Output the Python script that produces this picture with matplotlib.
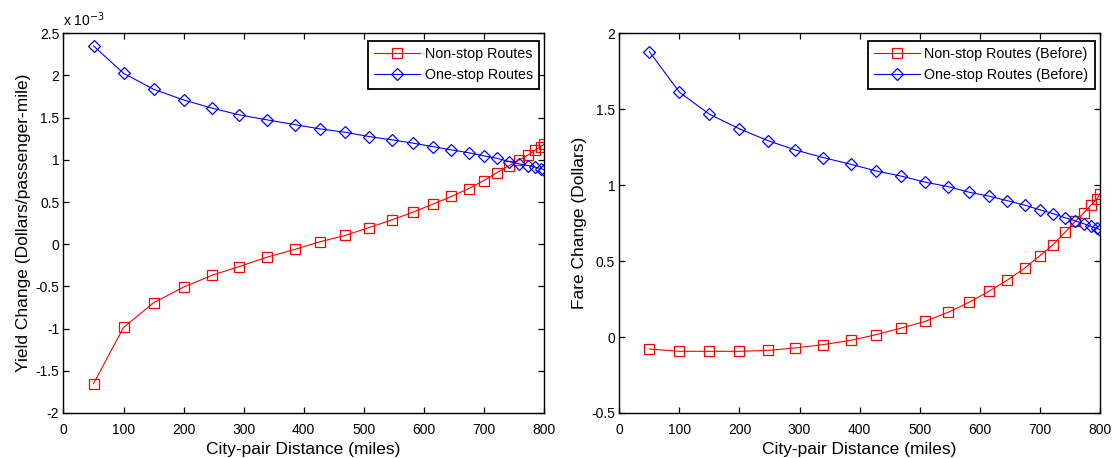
import matplotlib.pyplot as plt
import matplotlib.ticker as mticker

plt.rcParams['font.family'] = ['Liberation Sans', 'DejaVu Sans']
plt.rcParams['axes.unicode_minus'] = False

# city-pair distances (miles)
distance = [50, 100, 150, 200, 248, 293, 339, 385, 427, 469, 509, 547,
            582, 615, 646, 675, 700, 722, 742, 759, 774, 786, 795, 800]

# yield change, in units of 1e-3 dollars/passenger-mile
yield_nonstop = [-1.653, -0.986, -0.694, -0.508, -0.366, -0.264, -0.153, -0.062,
                 0.029, 0.104, 0.198, 0.289, 0.380, 0.475, 0.566, 0.660,
                 0.755, 0.848, 0.932, 1.000, 1.059, 1.118, 1.158, 1.186]
yield_onestop = [2.350, 2.026, 1.837, 1.710, 1.612, 1.533, 1.474, 1.418,
                 1.367, 1.327, 1.276, 1.237, 1.198, 1.157, 1.118, 1.084,
                 1.047, 1.018, 0.980, 0.953, 0.932, 0.913, 0.897, 0.882]

# fare change (dollars)
fare_nonstop = [-0.079, -0.094, -0.094, -0.094, -0.088, -0.072, -0.050, -0.022,
                0.015, 0.059, 0.103, 0.162, 0.228, 0.300, 0.375, 0.454,
                0.535, 0.607, 0.689, 0.761, 0.820, 0.871, 0.908, 0.941]
fare_onestop = [1.879, 1.612, 1.467, 1.371, 1.292, 1.232, 1.182, 1.138,
                1.094, 1.060, 1.020, 0.991, 0.954, 0.928, 0.898, 0.868,
                0.838, 0.813, 0.786, 0.765, 0.745, 0.728, 0.717, 0.706]

fig = plt.figure(figsize=(11.12, 4.58), dpi=100)
ax1 = fig.add_axes([0.0571, 0.0983, 0.432, 0.829])
ax2 = fig.add_axes([0.557, 0.0983, 0.432, 0.829])


def style_axes(ax, ylim, ystep):
    ax.set_xlim(0, 800)
    ax.set_ylim(*ylim)
    ax.xaxis.set_major_locator(mticker.MultipleLocator(100))
    ax.yaxis.set_major_locator(mticker.MultipleLocator(ystep))
    ax.yaxis.set_major_formatter(mticker.FormatStrFormatter('%g'))
    ax.tick_params(direction='in', top=True, right=True, length=4,
                   width=0.9, labelsize=10, pad=3)
    ax.tick_params(axis='x', pad=7)
    for sp in ax.spines.values():
        sp.set_linewidth(1.0)
    ax.set_xlabel('City-pair Distance (miles)', fontsize=12.5, labelpad=4)


ax1.plot(distance, yield_nonstop, color='red', lw=0.8, marker='s', ms=7,
         mfc='none', mew=0.9, label='Non-stop Routes')
ax1.plot(distance, yield_onestop, color='blue', lw=0.8, marker='D', ms=6,
         mfc='none', mew=0.9, label='One-stop Routes')
style_axes(ax1, (-2, 2.5), 0.5)
ax1.set_ylabel('Yield Change (Dollars/passenger-mile)', fontsize=12.5, labelpad=3)
ax1.text(0.0, 1.012, 'x 10$^{-3}$', transform=ax1.transAxes, fontsize=10,
         ha='left', va='bottom')

ax2.plot(distance, fare_nonstop, color='red', lw=0.8, marker='s', ms=7,
         mfc='none', mew=0.9, label='Non-stop Routes (Before)')
ax2.plot(distance, fare_onestop, color='blue', lw=0.8, marker='D', ms=6,
         mfc='none', mew=0.9, label='One-stop Routes (Before)')
style_axes(ax2, (-0.5, 2), 0.5)
ax2.set_ylabel('Fare Change (Dollars)', fontsize=12.5, labelpad=3)

for ax in (ax1, ax2):
    leg = ax.legend(loc='upper right', bbox_to_anchor=(0.99, 0.98),
                    borderaxespad=0, fontsize=10.3, fancybox=False,
                    framealpha=1, edgecolor='black', handlelength=3.2,
                    handletextpad=0.3, borderpad=0.45, labelspacing=0.5)
    leg.get_frame().set_linewidth(1.3)

fig.savefig('out.png', dpi=100)
